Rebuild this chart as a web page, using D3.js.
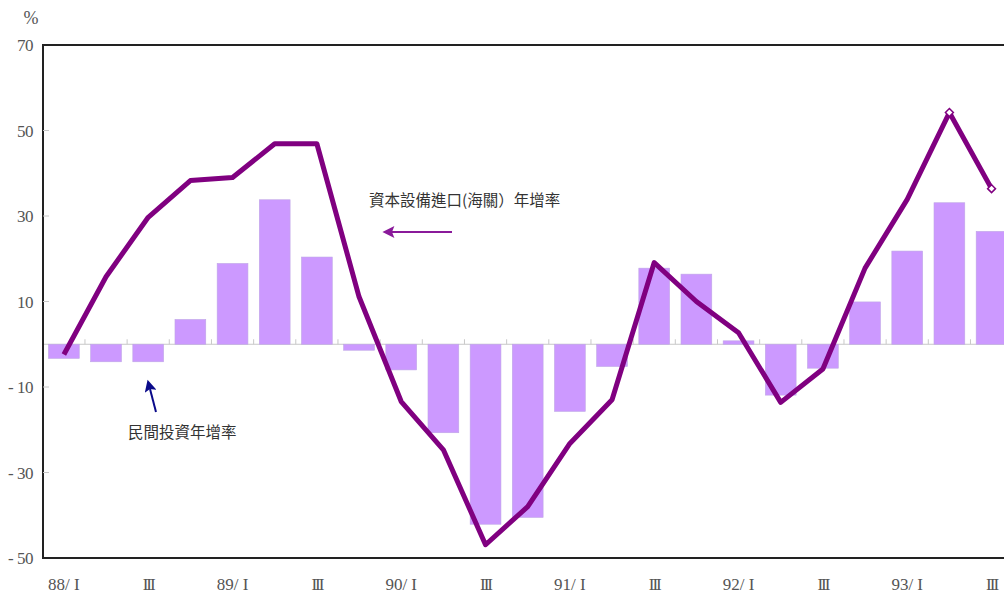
<!DOCTYPE html>
<html>
<head>
<meta charset="utf-8">
<script src="https://cdn.jsdelivr.net/npm/d3@7"></script>
<style>
  html, body { margin: 0; padding: 0; background: #fff; overflow: hidden; }
  svg { display: block; }
</style>
</head>
<body>
<div id="chart"></div>
<script>
// Quarterly growth: private investment (bars) vs capital equipment imports (line)
const quarters = [
  "88/I", "88/II", "88/III", "88/IV",
  "89/I", "89/II", "89/III", "89/IV",
  "90/I", "90/II", "90/III", "90/IV",
  "91/I", "91/II", "91/III", "91/IV",
  "92/I", "92/II", "92/III", "92/IV",
  "93/I", "93/II", "93/III", "93/IV"
];
const tickQuarters = ["88/I", "88/III", "89/I", "89/III", "90/I", "90/III",
  "91/I", "91/III", "92/I", "92/III", "93/I", "93/III"];
const tickLabels = ["88/ I", "III", "89/ I", "III", "90/ I", "III",
  "91/ I", "III", "92/ I", "III", "93/ I", "III"];

// 民間投資年增率
const investGrowth = [-3.3, -4.1, -4.1, 5.8, 18.9, 33.8, 20.4, -1.4,
  -6.0, -20.7, -42.1, -40.5, -15.7, -5.2, 17.8, 16.4,
  0.8, -11.9, -5.6, 9.9, 21.8, 33.1, 26.4];
// 資本設備進口(海關)年增率
const importGrowth = [-2.4, 15.8, 29.7, 38.3, 39.0, 46.9, 46.9, 11.1,
  -13.4, -24.7, -46.9, -38.0, -23.2, -13.0, 19.1, 10.0,
  2.7, -13.6, -5.8, 17.8, 33.9, 54.2, 36.4];
// last points drawn with hollow diamonds
const markedFrom = 21;

const yTicks = [70, 50, 30, 10, -10, -30, -50];

const W = 1004, H = 596;
const margin = { left: 43, top: 45, bottom: 38 };
const plotBottom = H - margin.bottom;

const svg = d3.select("#chart").append("svg")
  .attr("width", W).attr("height", H);

const x = d3.scaleBand()
  .domain(quarters)
  .range([margin.left, margin.left + quarters.length * 42.15])
  .paddingInner(0.27)
  .paddingOuter(0.13);

const y = d3.scaleLinear().domain([-50, 70]).range([plotBottom, margin.top]);

const serif = "'Liberation Serif', 'Times New Roman', serif";
const cjk = "'Noto Sans CJK TC', 'Noto Sans CJK SC', sans-serif";

// zero line with category separators
svg.append("line")
  .attr("x1", margin.left).attr("x2", W)
  .attr("y1", y(0)).attr("y2", y(0))
  .attr("stroke", "#c8c8c8").attr("stroke-width", 1);

const sep = (q) => x(q) + x.bandwidth() + x.step() * x.paddingInner() / 2;
svg.append("g").selectAll("line")
  .data(quarters.slice(0, -1))
  .enter().append("line")
  .attr("x1", sep).attr("x2", sep)
  .attr("y1", y(0)).attr("y2", y(0) - 5)
  .attr("stroke", "#c8c8c8").attr("stroke-width", 1);

// bars
svg.append("g").selectAll("rect")
  .data(investGrowth)
  .enter().append("rect")
  .attr("x", (d, i) => x(quarters[i]))
  .attr("width", x.bandwidth())
  .attr("y", (d) => y(Math.max(0, d)))
  .attr("height", (d) => Math.abs(y(d) - y(0)))
  .attr("fill", "#cc99ff")
  .attr("stroke", "#bfa6e6")
  .attr("stroke-width", 0.6);

// line
const cx = (i) => x(quarters[i]) + x.bandwidth() / 2;
const line = d3.line()
  .x((d, i) => cx(i))
  .y((d) => y(d));
svg.append("path")
  .datum(importGrowth)
  .attr("d", line)
  .attr("fill", "none")
  .attr("stroke", "#800080")
  .attr("stroke-width", 5)
  .attr("stroke-linejoin", "round");

svg.append("g").selectAll("path")
  .data(importGrowth.map((v, i) => ({ v, i })).filter((d) => d.i >= markedFrom))
  .enter().append("path")
  .attr("d", d3.symbol().type(d3.symbolDiamond2).size(40))
  .attr("transform", (d) => `translate(${cx(d.i)},${y(d.v)})`)
  .attr("fill", "#fff")
  .attr("stroke", "#800080")
  .attr("stroke-width", 1.5);

// frame
svg.append("line")
  .attr("x1", margin.left).attr("x2", W)
  .attr("y1", margin.top).attr("y2", margin.top)
  .attr("stroke", "#222").attr("stroke-width", 2);
svg.append("line")
  .attr("x1", margin.left).attr("x2", W)
  .attr("y1", plotBottom).attr("y2", plotBottom)
  .attr("stroke", "#222").attr("stroke-width", 2);
svg.append("line")
  .attr("x1", margin.left).attr("x2", margin.left)
  .attr("y1", margin.top - 1).attr("y2", plotBottom + 1)
  .attr("stroke", "#222").attr("stroke-width", 2);

// y ticks and labels
const yAxis = svg.append("g");
yAxis.selectAll("line")
  .data(yTicks.filter((t) => t > -50 && t < 70))
  .enter().append("line")
  .attr("x1", margin.left).attr("x2", margin.left + 6)
  .attr("y1", (d) => y(d)).attr("y2", (d) => y(d))
  .attr("stroke", "#c8c8c8");
yAxis.selectAll("text")
  .data(yTicks)
  .enter().append("text")
  .attr("x", 33)
  .attr("y", (d) => y(d) + 6)
  .attr("text-anchor", "end")
  .attr("font-family", serif)
  .attr("font-size", 17)
  .attr("letter-spacing", -0.5)
  .attr("fill", "#555")
  .text((d) => (d < 0 ? "- " + Math.abs(d) : d));

svg.append("text")
  .attr("x", 31).attr("y", 24)
  .attr("text-anchor", "middle")
  .attr("font-family", serif)
  .attr("font-size", 18)
  .attr("fill", "#555")
  .text("%");

// x labels
svg.append("g").selectAll("text")
  .data(tickQuarters)
  .enter().append("text")
  .attr("x", (q) => x(q) + x.bandwidth() / 2)
  .attr("y", 590)
  .attr("text-anchor", "middle")
  .attr("font-family", serif)
  .attr("font-size", 17)
  .attr("letter-spacing", (q, i) => (tickLabels[i] === "III" ? -2 : 0))
  .attr("fill", "#555")
  .text((q, i) => tickLabels[i]);

// annotations
const defs = svg.append("defs");
function arrowHead(id, color) {
  defs.append("marker")
    .attr("id", id)
    .attr("viewBox", "0 0 10 10")
    .attr("refX", 2).attr("refY", 5)
    .attr("markerUnits", "userSpaceOnUse")
    .attr("markerWidth", 13).attr("markerHeight", 12)
    .attr("orient", "auto-start-reverse")
    .append("path")
    .attr("d", "M0,0 L10,5 L0,10 L2,5 Z")
    .attr("fill", color);
}
arrowHead("headPurple", "#8a1a9a");
arrowHead("headNavy", "#0a0a8a");

svg.append("text")
  .attr("x", 369).attr("y", 206)
  .attr("font-family", cjk)
  .attr("font-size", 15.5)
  .attr("fill", "#333")
  .text("資本設備進口(海關）年增率");
svg.append("line")
  .attr("x1", 452).attr("y1", 232)
  .attr("x2", 392).attr("y2", 232)
  .attr("stroke", "#8a1a9a").attr("stroke-width", 2)
  .attr("marker-end", "url(#headPurple)");

svg.append("text")
  .attr("x", 128).attr("y", 438)
  .attr("font-family", cjk)
  .attr("font-size", 15.5)
  .attr("fill", "#333")
  .text("民間投資年增率");
svg.append("line")
  .attr("x1", 156).attr("y1", 412)
  .attr("x2", 150).attr("y2", 389)
  .attr("stroke", "#0a0a8a").attr("stroke-width", 2)
  .attr("marker-end", "url(#headNavy)");
</script>
</body>
</html>
